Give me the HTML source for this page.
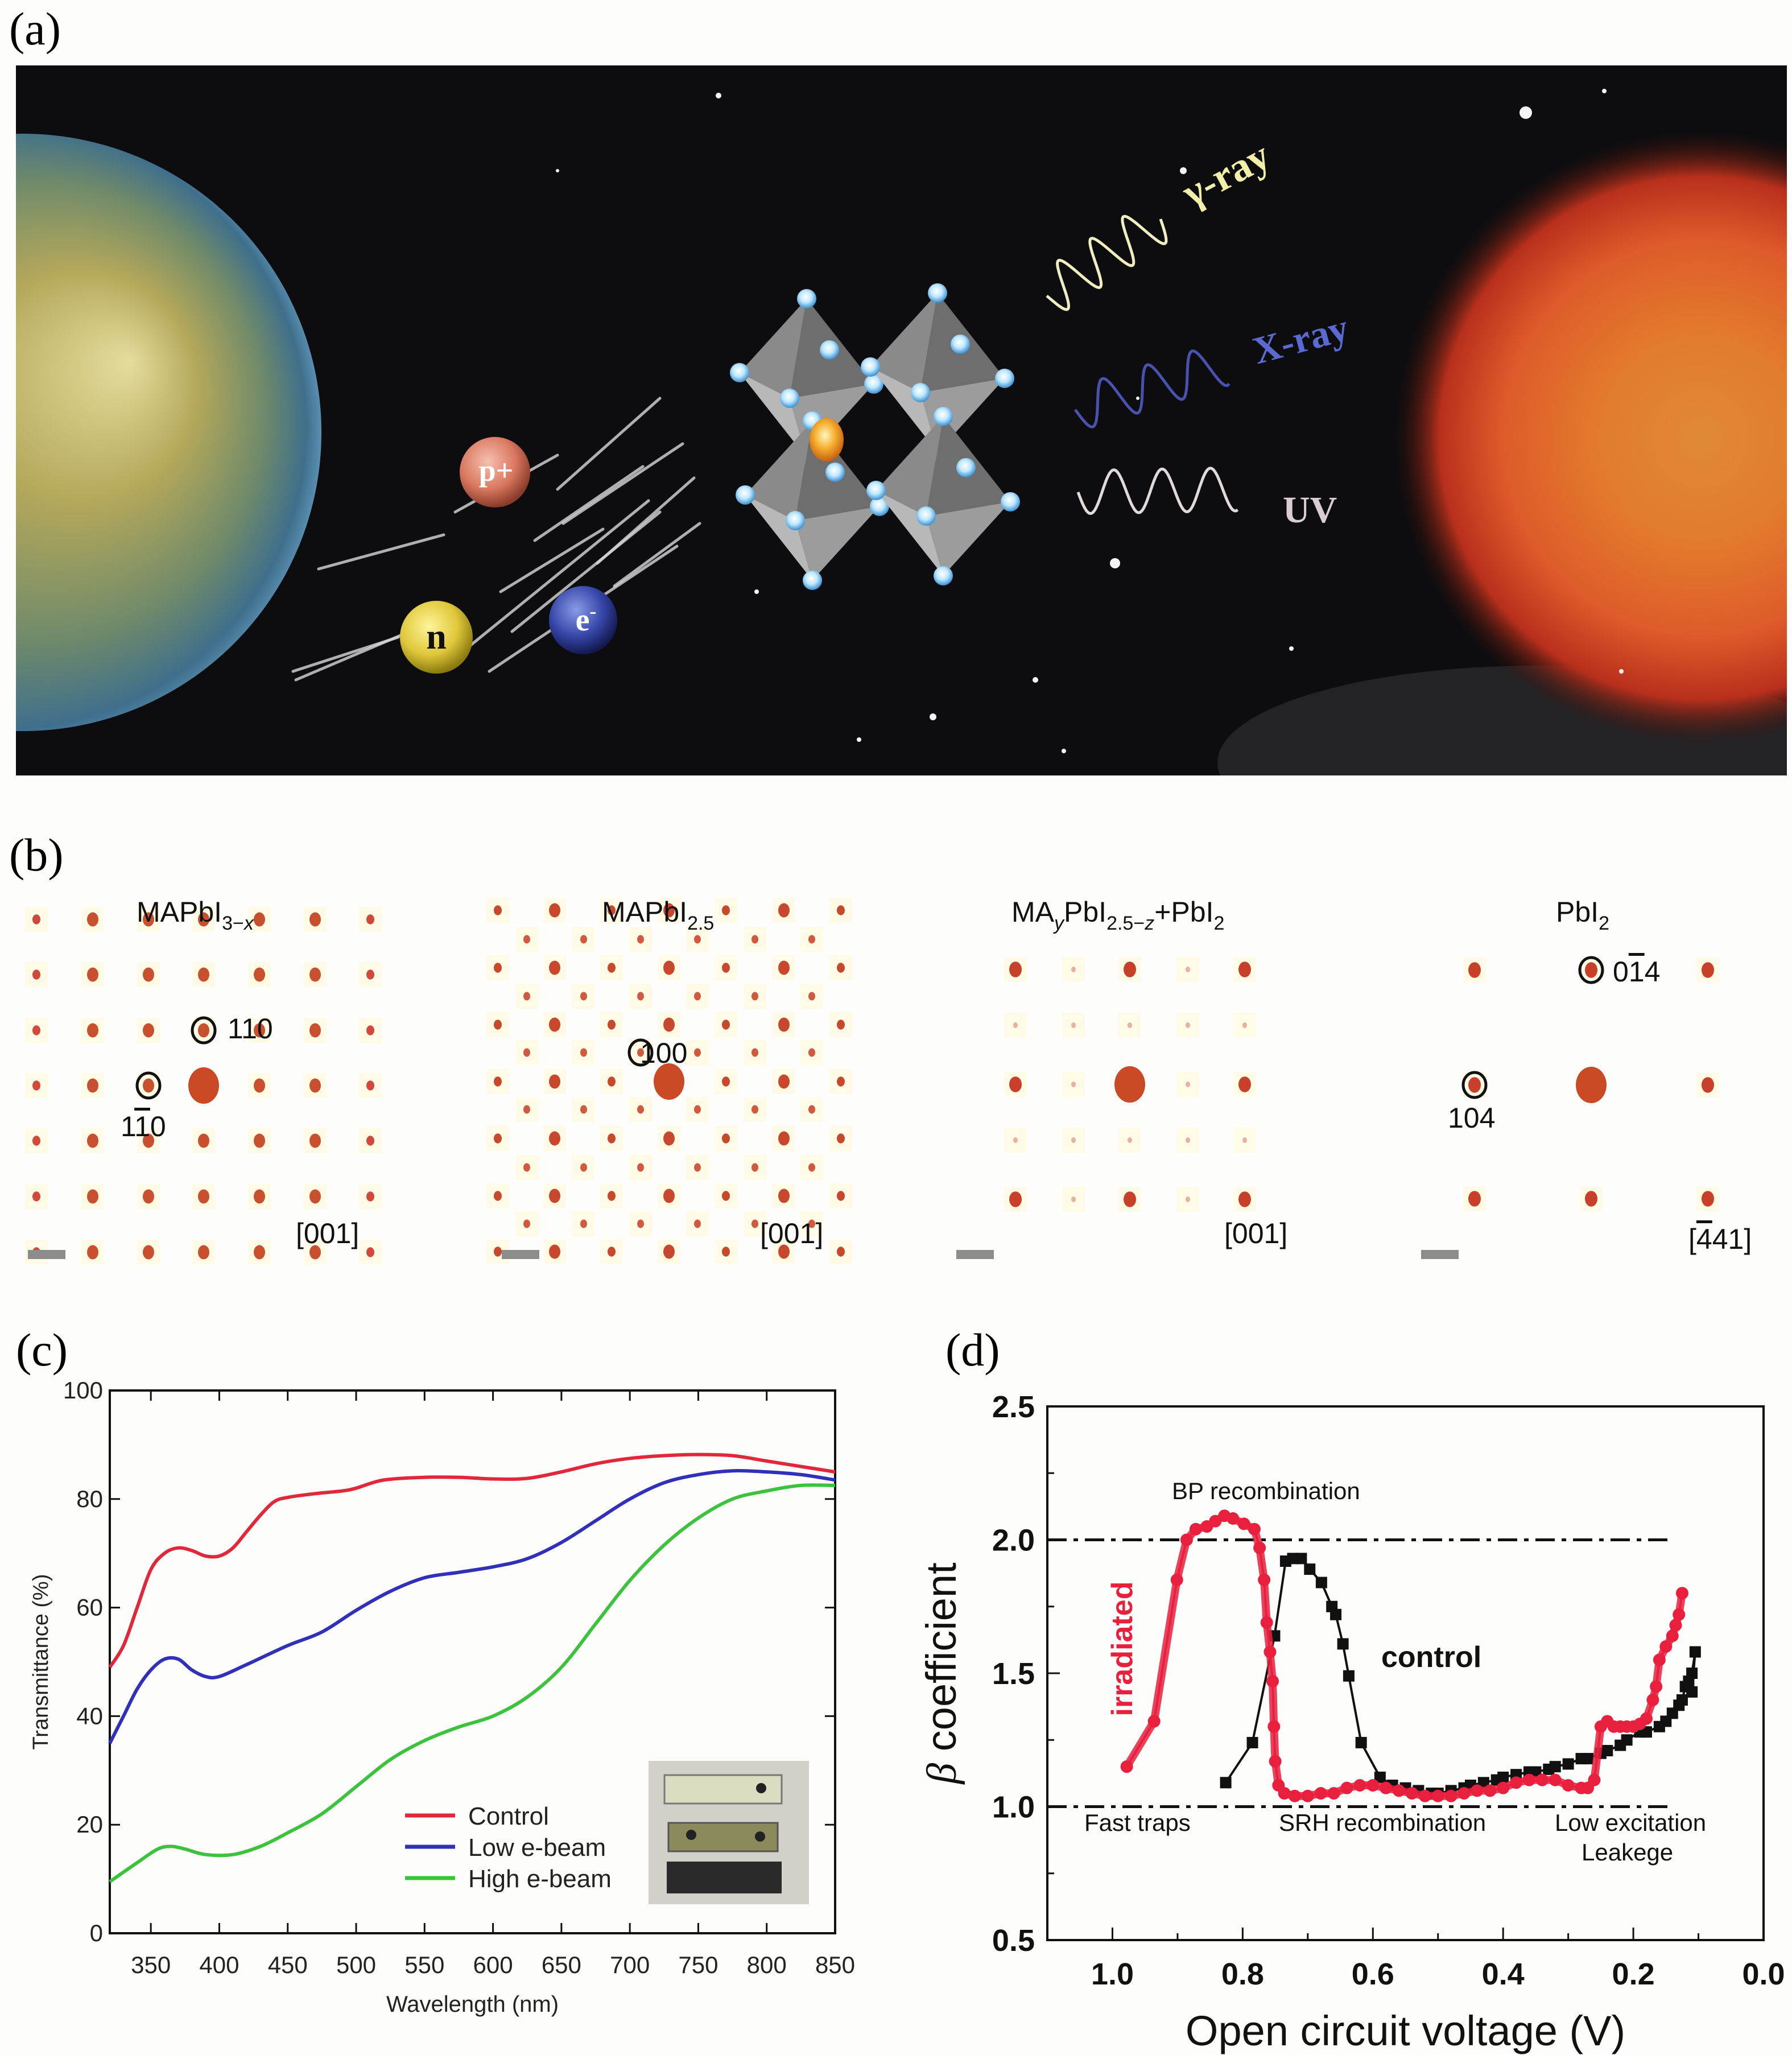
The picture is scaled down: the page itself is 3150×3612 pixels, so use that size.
<!DOCTYPE html>
<html><head><meta charset="utf-8">
<style>
html,body{margin:0;padding:0;background:#fdfdfb;}
svg{display:block;}
text{font-family:"Liberation Sans",sans-serif;}
.serif{font-family:"Liberation Serif",serif;}
.ov{text-decoration:overline;}
</style></head>
<body>
<svg id="fig" xmlns="http://www.w3.org/2000/svg" width="3150" height="3612" viewBox="0 0 3150 3612">
<defs>
  <radialGradient id="earthG" cx="45%" cy="50%" r="55%" fx="68%" fy="38%">
    <stop offset="0" stop-color="#e4dc9c"/><stop offset="0.35" stop-color="#b4a85a"/>
    <stop offset="0.7" stop-color="#6f8a6a"/><stop offset="0.92" stop-color="#3f6f8c"/><stop offset="1" stop-color="#5a8fb0"/>
  </radialGradient>
  <radialGradient id="sunG" cx="50%" cy="50%" r="50%">
    <stop offset="0" stop-color="#e08a35"/><stop offset="0.35" stop-color="#e27a2c"/>
    <stop offset="0.65" stop-color="#de5a2a"/><stop offset="0.85" stop-color="#b8301c"/><stop offset="1" stop-color="#3a1008" stop-opacity="0"/>
  </radialGradient>
  <radialGradient id="pG" cx="40%" cy="35%" r="65%"><stop offset="0" stop-color="#f6c0b0"/><stop offset="0.6" stop-color="#d9785f"/><stop offset="1" stop-color="#8a3b2a"/></radialGradient>
  <radialGradient id="nG" cx="40%" cy="35%" r="65%"><stop offset="0" stop-color="#fff49a"/><stop offset="0.6" stop-color="#e0c83a"/><stop offset="1" stop-color="#8a7a10"/></radialGradient>
  <radialGradient id="eG" cx="40%" cy="35%" r="65%"><stop offset="0" stop-color="#8a9ae8"/><stop offset="0.6" stop-color="#3646a8"/><stop offset="1" stop-color="#141a50"/></radialGradient>
  <radialGradient id="cG" cx="45%" cy="40%" r="60%"><stop offset="0" stop-color="#fff6c0"/><stop offset="0.5" stop-color="#f6b030"/><stop offset="1" stop-color="#c86010"/></radialGradient>
  <radialGradient id="vG" cx="45%" cy="40%" r="60%"><stop offset="0" stop-color="#ffffff"/><stop offset="0.5" stop-color="#bfe8ff"/><stop offset="1" stop-color="#3a90d0"/></radialGradient>
  <clipPath id="clipA"><rect x="28" y="115" width="3113" height="1248"/></clipPath>
</defs>

<text class="serif" x="16" y="78" font-size="82">(a)</text>
<text class="serif" x="16" y="1530" font-size="82">(b)</text>
<text class="serif" x="28" y="2400" font-size="82">(c)</text>
<text class="serif" x="1662" y="2400" font-size="82">(d)</text>

<g id="panelA" clip-path="url(#clipA)">
  <rect x="28" y="115" width="3113" height="1248" fill="#0d0d10"/>
  <ellipse cx="2700" cy="1340" rx="560" ry="170" fill="#3a3a3c" opacity="0.5"/>
  <circle cx="2990" cy="770" r="540" fill="url(#sunG)"/>
  <circle cx="40" cy="760" r="525" fill="url(#earthG)"/>
  <g id="stars"></g>
  <g id="streaks"></g>
  <g id="crystal"></g>
  <circle cx="870" cy="830" r="62" fill="url(#pG)"/>
  <text class="serif" x="872" y="845" font-size="54" font-weight="bold" fill="#fff" text-anchor="middle">p+</text>
  <circle cx="767" cy="1120" r="64" fill="url(#nG)"/>
  <text class="serif" x="767" y="1140" font-size="64" font-weight="bold" fill="#111" text-anchor="middle">n</text>
  <circle cx="1025" cy="1090" r="60" fill="url(#eG)"/>
  <text class="serif" x="1030" y="1108" font-size="56" font-weight="bold" fill="#fff" text-anchor="middle">e<tspan font-size="36" dy="-22">-</tspan></text>
  <g id="waves"></g>
  <text class="serif" x="2095" y="365" font-size="72" font-weight="bold" fill="#f2f0a8" transform="rotate(-28 2095 365)">γ-ray</text>
  <text class="serif" x="2210" y="640" font-size="68" font-weight="bold" fill="#5a6ad0" transform="rotate(-15 2210 640)">X-ray</text>
  <text class="serif" x="2255" y="918" font-size="66" font-weight="bold" fill="#d9cdd3">UV</text>
</g>

<g id="panelB"></g>
<g font-size="50" fill="#111">
  <text x="240" y="1620">MAPbI<tspan font-size="34" dy="14">3−<tspan font-style="italic">x</tspan></tspan></text>
  <text x="1058" y="1620">MAPbI<tspan font-size="34" dy="14">2.5</tspan></text>
  <text x="1778" y="1620">MA<tspan font-size="34" dy="14" font-style="italic">y</tspan><tspan dy="-14">PbI</tspan><tspan font-size="34" dy="14">2.5−<tspan font-style="italic">z</tspan></tspan><tspan dy="-14">+PbI</tspan><tspan font-size="34" dy="14">2</tspan></text>
  <text x="2735" y="1620">PbI<tspan font-size="34" dy="14">2</tspan></text>
  <text x="400" y="1825">110</text>
  <text x="212" y="1997">1<tspan class="ov">1</tspan>0</text>
  <text x="1125" y="1868">100</text>
  <text x="2835" y="1725">0<tspan class="ov">1</tspan>4</text>
  <text x="2545" y="1982">104</text>
  <text x="520" y="2185">[001]</text>
  <text x="1336" y="2185">[001]</text>
  <text x="2152" y="2185">[001]</text>
  <text x="2968" y="2195">[<tspan class="ov">4</tspan>41]</text>
</g>

<g id="panelC"></g>
<g id="panelD"></g>
</svg>

<script>
// ---------- Panel c data ----------
const wlControl = [320,330,340,350,360,370,380,390,400,410,420,430,440,450,470,490,500,520,550,575,600,625,650,675,700,725,750,775,800,825,850];
const tControl  = [49,53,60,67,70,71,70.5,69.5,69.5,71,74,77,79.5,80.3,81,81.5,82,83.5,84,84,83.7,83.8,85,86.5,87.5,88,88.2,88,87,86,85];
const wlLow = [320,330,340,350,360,370,380,390,400,420,450,475,500,525,550,575,600,625,650,675,700,725,750,775,800,825,850];
const tLow  = [35,40,45,48.5,50.5,50.5,48.5,47.3,47.3,49.5,53,55.5,59.5,63,65.5,66.5,67.5,69,72,76,80,83,84.5,85.2,85,84.5,83.5];
const wlHigh = [320,340,355,365,375,390,410,430,450,475,500,525,550,575,600,625,650,675,700,725,750,775,800,825,850];
const tHigh  = [9.5,13,15.5,16,15.5,14.5,14.5,16,18.5,22,27,32,35.5,38,40,43.5,49,57,65,71.5,76.5,80,81.5,82.5,82.5];
const cXTicks = [350,400,450,500,550,600,650,700,750,800,850];
const cYTicks = [0,20,40,60,80,100];
const cLegend = ["Control","Low e-beam","High e-beam"];

// ---------- Panel d data ----------
const vControl = [0.826,0.785,0.751,0.734,0.723,0.71,0.697,0.679,0.663,0.657,0.646,0.637,0.618,0.589,0.57,0.55,0.53,0.51,0.5,0.48,0.46,0.45,0.43,0.41,0.4,0.38,0.36,0.35,0.33,0.32,0.3,0.28,0.27,0.25,0.24,0.22,0.21,0.19,0.18,0.16,0.15,0.14,0.13,0.125,0.12,0.115,0.11,0.105,0.11];
const bControl = [1.09,1.24,1.64,1.92,1.93,1.93,1.89,1.84,1.75,1.72,1.61,1.49,1.24,1.11,1.08,1.07,1.06,1.05,1.05,1.06,1.07,1.08,1.09,1.1,1.11,1.12,1.13,1.13,1.14,1.15,1.16,1.18,1.18,1.2,1.21,1.23,1.25,1.28,1.28,1.3,1.32,1.35,1.38,1.4,1.45,1.47,1.5,1.58,1.43];
const vIrr = [0.978,0.936,0.901,0.886,0.872,0.855,0.842,0.828,0.815,0.798,0.782,0.774,0.767,0.763,0.758,0.754,0.752,0.75,0.745,0.736,0.72,0.7,0.68,0.66,0.64,0.62,0.6,0.58,0.56,0.54,0.52,0.5,0.48,0.46,0.44,0.42,0.4,0.38,0.36,0.34,0.32,0.3,0.28,0.27,0.26,0.25,0.24,0.23,0.22,0.21,0.2,0.19,0.18,0.17,0.165,0.16,0.15,0.14,0.135,0.13,0.125];
const bIrr = [1.15,1.32,1.85,2.0,2.04,2.05,2.07,2.09,2.08,2.06,2.04,1.97,1.85,1.69,1.58,1.47,1.3,1.17,1.08,1.05,1.04,1.04,1.05,1.05,1.07,1.08,1.08,1.07,1.06,1.05,1.04,1.04,1.04,1.05,1.06,1.06,1.07,1.09,1.1,1.1,1.1,1.08,1.07,1.07,1.1,1.3,1.32,1.3,1.3,1.3,1.3,1.31,1.33,1.4,1.45,1.55,1.6,1.64,1.68,1.72,1.8];
const dXTicks = [1.0,0.8,0.6,0.4,0.2,0.0];
const dYTicks = [0.5,1.0,1.5,2.0,2.5];
const dRefLines = [2.0,1.0];

const NS = "http://www.w3.org/2000/svg";
function mk(parent, tag, attrs){ const e=document.createElementNS(NS,tag); for(const k in attrs) e.setAttribute(k,attrs[k]); parent.appendChild(e); return e; }
function smooth(pts){
  let d='M'+pts[0][0].toFixed(1)+','+pts[0][1].toFixed(1);
  for(let i=0;i<pts.length-1;i++){
    const p0=pts[Math.max(0,i-1)],p1=pts[i],p2=pts[i+1],p3=pts[Math.min(pts.length-1,i+2)];
    const c1=[p1[0]+(p2[0]-p0[0])/6,p1[1]+(p2[1]-p0[1])/6];
    const c2=[p2[0]-(p3[0]-p1[0])/6,p2[1]-(p3[1]-p1[1])/6];
    d+='C'+c1[0].toFixed(1)+','+c1[1].toFixed(1)+' '+c2[0].toFixed(1)+','+c2[1].toFixed(1)+' '+p2[0].toFixed(1)+','+p2[1].toFixed(1);
  }
  return d;
}

// ---------- Panel a decorations ----------
(function(){
  const stars=document.getElementById('stars');
  const sp=[[1263,168,5],[2682,198,11],[2080,300,6],[2820,160,4],[1960,990,9],[1640,1260,6],[1820,1195,5],[2270,1140,4],[2850,1180,4],[1510,1300,4],[980,300,3],[1330,1040,4],[2000,700,3],[1870,1320,4]];
  sp.forEach(s=>{ const c=mk(stars,'circle',{cx:s[0],cy:s[1],r:s[2],fill:'#f4f4f4'});
    
     });
  const st=document.getElementById('streaks');
  const lines=[[560,1000,780,940],[520,1195,720,1110],[515,1180,700,1120],[820,1140,1140,880],[860,1180,1190,960],[900,1110,1160,900],[980,860,1160,700],[990,920,1200,780],[1050,990,1220,840],[940,950,1130,820],[1080,1030,1230,920],[800,900,980,800],[880,1040,1060,930]];
  lines.forEach(l=>{ const e=mk(st,'line',{x1:l[0],y1:l[1],x2:l[2],y2:l[3],stroke:'#d8d8d8','stroke-width':5,'stroke-linecap':'round',opacity:0.8});
    
     });
  const cr=document.getElementById('crystal');
  const oct=[[1418,665],[1648,655],[1428,880],[1658,872]];
  const h=140, w=118;
  oct.forEach((o,i)=>{
    const [cx,cy]=o;
    const g=mk(cr,'g',{});
    
    
    const T=[cx,cy-h],B=[cx,cy+h],L=[cx-w,cy-10],R=[cx+w,cy+10],F=[cx-30,cy+35];
    const p=a=>a.map(q=>q.join(',')).join(' ');
    mk(g,'polygon',{points:p([T,L,F]),fill:'#8a8a8a'});
    mk(g,'polygon',{points:p([T,F,R]),fill:'#6e6e6e'});
    mk(g,'polygon',{points:p([B,L,F]),fill:'#b8b8b8'});
    mk(g,'polygon',{points:p([B,F,R]),fill:'#9c9c9c'});
    [T,B,L,R,F,[cx+40,cy-50]].forEach(v=>mk(g,'circle',{cx:v[0],cy:v[1],r:17,fill:'url(#vG)'}));
  });
  const ctr=mk(cr,'ellipse',{cx:1453,cy:773,rx:30,ry:38,fill:'url(#cG)'});
  
  
  const wv=document.getElementById('waves');
  function wave(x0,y0,x1,y1,amp,cyc,col,sw,name){
    const dx=x1-x0, dy=y1-y0, L=Math.hypot(dx,dy), ux=dx/L, uy=dy/L, nx=-uy, ny=ux;
    let d=''; const n=120;
    for(let i=0;i<=n;i++){ const t=i/n, s=Math.sin(t*cyc*2*Math.PI)*amp;
      d+=(i?'L':'M')+(x0+dx*t+nx*s).toFixed(1)+','+(y0+dy*t+ny*s).toFixed(1); }
    const e=mk(wv,'path',{d:d,fill:'none',stroke:col,'stroke-width':sw});
    
    
  }
  wave(1840,520,2040,385,40,3.5,'#f0eec0',5,'gamma-ray-wave');
  wave(1895,865,2175,860,38,3.3,'#e0dada',5,'uv-wave');
  wave(1890,720,2150,640,38,3.3,'#4a52b0',5,'x-ray-wave');
})();

// ---------- Panel b ----------
(function(){
  const g=document.getElementById('panelB');
  function spot(x,y,r,fill,name){
    const h=mk(g,'rect',{x:x-20,y:y-22,width:40,height:44,fill:'#fffbe6'});
    
    
    const e=mk(g,'ellipse',{cx:x,cy:y,rx:r,ry:r*1.25,fill:fill});
    
    
  }
  const c1=[64,163,261,358,456,554,651], r1=[1616,1713,1811,1908,2005,2103,2201];
  r1.forEach((y,i)=>c1.forEach((x,j)=>{ const edge=(j==0||j==6); spot(x,y,edge?7:10,edge?'#d2483a':'#c8502e','diffraction-spot'); }));
  const c2=[875,975,1075,1176,1276,1378,1478], r2=[1600,1701,1801,1901,2001,2102,2200];
  const c2o=[926,1026,1126,1226,1327,1427], r2o=[1651,1751,1850,1950,2052,2151];
  r2.forEach(y=>c2.forEach((x,j)=>spot(x,y,(j%2==1)?10:7,'#c8482e','diffraction-spot')));
  r2o.forEach(y=>c2o.forEach(x=>spot(x,y,6,'#cf5a40','diffraction-spot')));
  const c3=[1785,1887,1986,2088,2188], r3=[1704,1802,1906,2004,2108];
  r3.forEach((y,i)=>c3.forEach((x,j)=>{ const strong=(i%2==0&&j%2==0); spot(x,y,strong?11:4,strong?'#c8402a':'#e8b0a0','diffraction-spot'); }));
  const c4=[2592,2797,3002], r4=[1705,1907,2107];
  r4.forEach(y=>c4.forEach(x=>spot(x,y,11,'#c8402a','diffraction-spot')));
  [[358,1908],[1176,1901],[1986,1906],[2797,1907]].forEach(p=>{ const e=mk(g,'ellipse',{cx:p[0],cy:p[1],rx:27,ry:32,fill:'#c94a24'});
    
     });
  [[358,1811],[261,1908],[1126,1850],[2797,1705],[2592,1907]].forEach(p=>{ const e=mk(g,'ellipse',{cx:p[0],cy:p[1],rx:20,ry:22,fill:'none',stroke:'#111','stroke-width':5});
    
     });
  [49,882,1681,2498].forEach(x=>{ const e=mk(g,'rect',{x:x,y:2197,width:66,height:16,fill:'#8c8c8c'});
    
     });
})();

// ---------- Panel c ----------
(function(){
  const g=document.getElementById('panelC');
  const X0=193,X1=1468,Y0=3398,Y1=2444;
  const sx=v=>X0+(v-320)/(850-320)*(X1-X0);
  const sy=v=>Y0+(v-0)/(100-0)*(Y1-Y0);
  const frame=mk(g,'rect',{x:X0,y:Y1,width:X1-X0,height:Y0-Y1,fill:'none',stroke:'#111','stroke-width':4});
  
  
  cXTicks.forEach(t=>{
    const x=sx(t);
    mk(g,'line',{x1:x,y1:Y0,x2:x,y2:Y0-18,stroke:'#111','stroke-width':3});
    mk(g,'line',{x1:x,y1:Y1,x2:x,y2:Y1+18,stroke:'#111','stroke-width':3});
    const tx=mk(g,'text',{x:x,y:Y0+70,'font-size':42,'text-anchor':'middle',fill:'#222'});
    tx.textContent=t;
    
    
  });
  cYTicks.forEach(t=>{
    const y=sy(t);
    mk(g,'line',{x1:X0,y1:y,x2:X0+18,y2:y,stroke:'#111','stroke-width':3});
    mk(g,'line',{x1:X1,y1:y,x2:X1-18,y2:y,stroke:'#111','stroke-width':3});
    const tx=mk(g,'text',{x:X0-12,y:y+14,'font-size':42,'text-anchor':'end',fill:'#222'});
    tx.textContent=t;
    
    
  });
  const xt=mk(g,'text',{x:(X0+X1)/2,y:Y0+138,'font-size':40,'text-anchor':'middle',fill:'#222'});
  xt.textContent='Wavelength (nm)';
  
  
  const yt=mk(g,'text',{x:0,y:0,'font-size':38,'text-anchor':'middle',fill:'#222',transform:'translate(84 '+((Y0+Y1)/2)+') rotate(-90)'});
  yt.textContent='Transmittance (%)';
  
  
  const series=[[wlControl,tControl,'#e0283a','control-curve'],[wlLow,tLow,'#3030b8','low-e-beam-curve'],[wlHigh,tHigh,'#3cc23c','high-e-beam-curve']];
  series.forEach(s=>{
    const pts=s[0].map((w,i)=>[sx(w),sy(s[1][i])]);
    const p=mk(g,'path',{d:smooth(pts),fill:'none',stroke:s[2],'stroke-width':6,'stroke-linejoin':'round'});
    
    
  });
  const cols=['#e0283a','#3030b8','#3cc23c'];
  cLegend.forEach((lab,i)=>{
    const y=3191+i*55;
    const l=mk(g,'line',{x1:712,y1:y,x2:800,y2:y,stroke:cols[i],'stroke-width':7});
    
    
    const t=mk(g,'text',{x:823,y:y+16,'font-size':44,fill:'#222'});
    t.textContent=lab;
    
    
  });
  const ph=mk(g,'g',{});
  
  
  mk(ph,'rect',{x:1140,y:3095,width:282,height:252,fill:'#d2d0c8'});
  mk(ph,'rect',{x:1168,y:3120,width:206,height:50,fill:'#dcdcc0',stroke:'#777','stroke-width':3});
  mk(ph,'rect',{x:1175,y:3204,width:192,height:50,fill:'#8a8a5a',stroke:'#555','stroke-width':3});
  mk(ph,'rect',{x:1172,y:3272,width:202,height:56,fill:'#2a2a2a'});
  mk(ph,'circle',{cx:1338,cy:3143,r:9,fill:'#222'});
  mk(ph,'circle',{cx:1215,cy:3225,r:9,fill:'#222'});
  mk(ph,'circle',{cx:1336,cy:3228,r:9,fill:'#222'});
})();

// ---------- Panel d ----------
(function(){
  const g=document.getElementById('panelD');
  const X0=1841,X1=3100,Y0=3410,Y1=2472;
  const sx=v=>X0+(1.1-v)/1.1*(X1-X0);
  const sy=v=>Y0+(v-0.5)/2.0*(Y1-Y0);
  const frame=mk(g,'rect',{x:X0,y:Y1,width:X1-X0,height:Y0-Y1,fill:'none',stroke:'#111','stroke-width':4});
  
  
  for(let k=0;k<=10;k++){ const v=k/10; const x=sx(v);
    mk(g,'line',{x1:x,y1:Y0,x2:x,y2:Y0-(k%2==0?22:12),stroke:'#111','stroke-width':3}); }
  for(let k=2;k<=10;k++){ const v=k*0.25; const y=sy(v);
    mk(g,'line',{x1:X0,y1:y,x2:X0+(k%2==0?22:12),y2:y,stroke:'#111','stroke-width':3}); }
  dXTicks.forEach(t=>{
    const tx=mk(g,'text',{x:sx(t),y:Y0+78,'font-size':54,'font-weight':'bold','text-anchor':'middle',fill:'#111'});
    tx.textContent=t.toFixed(1);
    
    
  });
  dYTicks.forEach(t=>{
    const tx=mk(g,'text',{x:X0-22,y:sy(t)+19,'font-size':54,'font-weight':'bold','text-anchor':'end',fill:'#111'});
    tx.textContent=t.toFixed(1);
    
    
  });
  const xt=mk(g,'text',{x:(X0+X1)/2,y:Y0+185,'font-size':74,'text-anchor':'middle',fill:'#111'});
  xt.textContent='Open circuit voltage (V)';
  
  
  const yt=mk(g,'text',{x:0,y:0,'font-size':74,'text-anchor':'middle',fill:'#111',transform:'translate(1680 '+((Y0+Y1)/2)+') rotate(-90)'});
  yt.innerHTML='<tspan font-style="italic" font-family="Liberation Serif">β</tspan> coefficient';
  
  
  dRefLines.forEach(v=>{
    const l=mk(g,'line',{x1:X0,y1:sy(v),x2:sx(0.14),y2:sy(v),stroke:'#111','stroke-width':5,'stroke-dasharray':'34 12 8 12'});
    
    
  });
  const dC=vControl.map((v,i)=>(i?'L':'M')+sx(v).toFixed(1)+','+sy(bControl[i]).toFixed(1)).join('');
  const pc=mk(g,'path',{d:dC,fill:'none',stroke:'#111','stroke-width':4});
  
  
  vControl.forEach((v,i)=>{
    const r=mk(g,'rect',{x:sx(v)-10,y:sy(bControl[i])-10,width:20,height:20,fill:'#111'});
    
    
  });
  const dI=vIrr.map((v,i)=>(i?'L':'M')+sx(v).toFixed(1)+','+sy(bIrr[i]).toFixed(1)).join('');
  const pi=mk(g,'path',{d:dI,fill:'none',stroke:'#e8203e','stroke-width':4});
  
  
  const pi2=mk(g,'path',{d:dI,fill:'none',stroke:'#e8203e','stroke-width':14,'stroke-linejoin':'round',opacity:0.85});
  
  
  vIrr.forEach((v,i)=>{
    const c=mk(g,'circle',{cx:sx(v),cy:sy(bIrr[i]),r:11,fill:'#e8203e'});
    
    
  });
  const ann=[['BP recombination',2060,2635,42,'normal','#111','annotation-bp'],['Fast traps',1906,3218,42,'normal','#111','annotation-fast-traps'],['SRH recombination',2248,3218,42,'normal','#111','annotation-srh'],['Low excitation',2733,3218,42,'normal','#111','annotation-low-excitation'],['Leakege',2780,3270,42,'normal','#111','annotation-leakage'],['control',2428,2930,52,'bold','#111','control-label']];
  ann.forEach(a=>{
    const t=mk(g,'text',{x:a[1],y:a[2],'font-size':a[3],'font-weight':a[4],fill:a[5]});
    t.textContent=a[0];
    
    
  });
  const ir=mk(g,'text',{x:0,y:0,'font-size':52,'font-weight':'bold',fill:'#e8203e','text-anchor':'middle',transform:'translate(1990 2898) rotate(-90)'});
  ir.textContent='irradiated';
  
  
})();
</script>
</body></html>
